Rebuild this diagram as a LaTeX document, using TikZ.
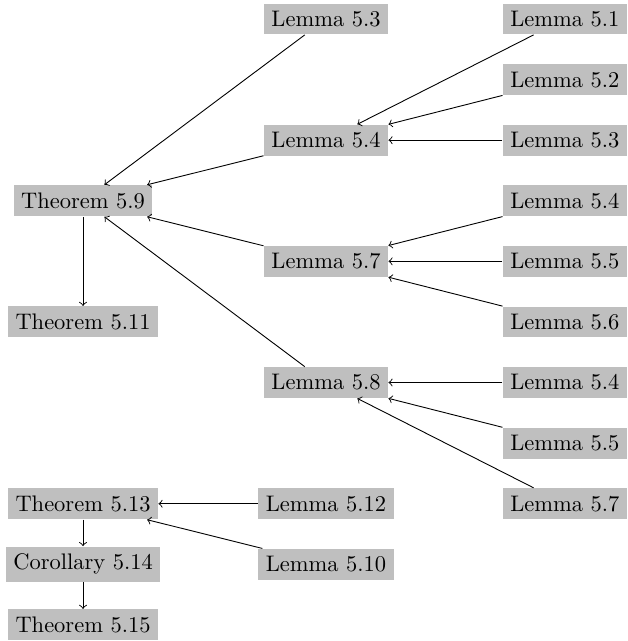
\documentclass[tikz,border=0pt]{standalone}
\begin{document}
\begin{tikzpicture}[x=1pt,y=1pt,
  res/.style={fill=black!25, inner sep=3.33pt},
  dep/.style={->}]
\useasboundingbox (0,0) rectangle (279.1,-284.9);
\def\ca{36.9}\def\cb{144.9}\def\cc{251.1}
\def\r#1{-8.44-26.93*#1}
% column 3
\node[res] (l51) at (\cc,{\r{0}}) {Lemma 5.1};
\node[res] (l52) at (\cc,{\r{1}}) {Lemma 5.2};
\node[res] (l53b) at (\cc,{\r{2}}) {Lemma 5.3};
\node[res] (l54b) at (\cc,{\r{3}}) {Lemma 5.4};
\node[res] (l55b) at (\cc,{\r{4}}) {Lemma 5.5};
\node[res] (l56) at (\cc,{\r{5}}) {Lemma 5.6};
\node[res] (l54c) at (\cc,{\r{6}}) {Lemma 5.4};
\node[res] (l55c) at (\cc,{\r{7}}) {Lemma 5.5};
\node[res] (l57c) at (\cc,{\r{8}}) {Lemma 5.7};
% column 2
\node[res] (l53a) at (\cb,{\r{0}}) {Lemma 5.3};
\node[res] (l54a) at (\cb,{\r{2}}) {Lemma 5.4};
\node[res] (l57a) at (\cb,{\r{4}}) {Lemma 5.7};
\node[res] (l58) at (\cb,{\r{6}}) {Lemma 5.8};
\node[res] (l512) at (\cb,{\r{8}}) {Lemma 5.12};
\node[res] (l510) at (\cb,{\r{9}}) {Lemma 5.10};
% column 1
\node[res] (t59) at (\ca,{\r{3}}) {Theorem 5.9};
\node[res] (t511) at (\ca,{\r{5}}) {Theorem 5.11};
\node[res] (t513) at (\ca,{\r{8}}) {Theorem 5.13};
\node[res] (c514) at (\ca,{\r{9}}) {Corollary 5.14};
\node[res] (t515) at (\ca,{\r{10}}) {Theorem 5.15};
% edges
\draw[dep] (l51) -- (l54a);
\draw[dep] (l52) -- (l54a);
\draw[dep] (l53b) -- (l54a);
\draw[dep] (l54b) -- (l57a);
\draw[dep] (l55b) -- (l57a);
\draw[dep] (l56) -- (l57a);
\draw[dep] (l54c) -- (l58);
\draw[dep] (l55c) -- (l58);
\draw[dep] (l57c) -- (l58);
\draw[dep] (l53a) -- (t59);
\draw[dep] (l54a) -- (t59);
\draw[dep] (l57a) -- (t59);
\draw[dep] (l58) -- (t59);
\draw[dep] (t59) -- (t511);
\draw[dep] (l512) -- (t513);
\draw[dep] (l510) -- (t513);
\draw[dep] (t513) -- (c514);
\draw[dep] (c514) -- (t515);
\end{tikzpicture}
\end{document}
